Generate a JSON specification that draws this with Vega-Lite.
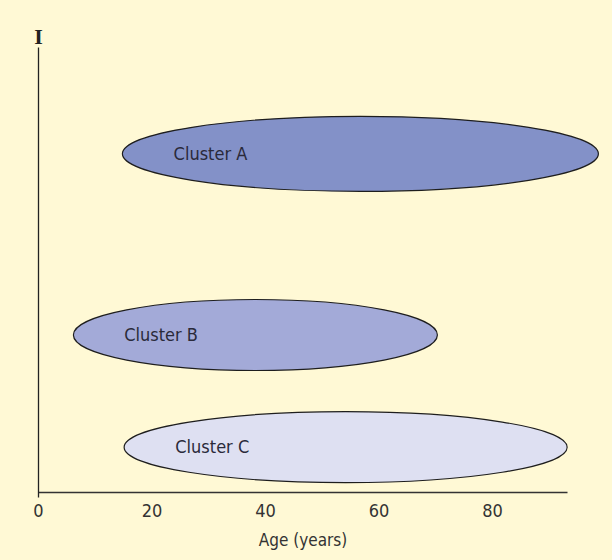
{
  "$schema": "https://vega.github.io/schema/vega-lite/v6.json",
  "autosize": "none",
  "width": 529,
  "height": 450,
  "padding": {"left": 38, "top": 47, "right": 45, "bottom": 63},
  "background": "#FFF9D5",
  "config": {
    "view": {"stroke": null},
    "font": "DejaVu Sans Condensed, Roboto, sans-serif"
  },
  "data": {
    "values": [
      {"cluster": "Cluster A", "ageMin": 14.9, "ageCenter": 56.8, "level": 76},
      {"cluster": "Cluster B", "ageMin": 6.2, "ageCenter": 38.3, "level": 35.3},
      {"cluster": "Cluster C", "ageMin": 15.2, "ageCenter": 54.2, "level": 10.1}
    ]
  },
  "layer": [
    {
      "mark": {"type": "point", "filled": true, "size": 4, "opacity": 1, "stroke": "#1e1e1e", "strokeWidth": 1.2, "strokeOpacity": 1},
      "encoding": {
        "x": {
          "field": "ageCenter", "type": "quantitative",
          "scale": {"domain": [0, 93.2], "nice": false, "zero": false},
          "axis": {
            "title": "Age (years)", "values": [0, 20, 40, 60, 80], "ticks": false, "grid": false, "labelFlush": false,
            "domainColor": "#333333", "domainWidth": 1.3, "offset": -5,
            "labelFont": "DejaVu Sans Condensed, Roboto, sans-serif", "labelFontSize": 18, "labelColor": "#333333", "labelPadding": 10,
            "titleFont": "DejaVu Sans Condensed, Roboto, sans-serif", "titleFontSize": 17, "titleFontWeight": "normal", "titleColor": "#333333", "titlePadding": 12
          }
        },
        "y": {
          "field": "level", "type": "quantitative",
          "scale": {"domain": [-1.1, 100], "nice": false, "zero": false},
          "axis": {
            "title": "I", "ticks": false, "labels": false, "grid": false,
            "domainColor": "#222222", "domainWidth": 1.3,
            "titleAngle": 0, "titleX": 0, "titleY": -11, "titleAlign": "center", "titleBaseline": "middle",
            "titleFont": "Liberation Serif", "titleFontSize": 22, "titleFontWeight": "bold", "titleColor": "#222222"
          }
        },
        "shape": {
          "field": "cluster", "type": "nominal",
          "scale": {
            "domain": ["Cluster A", "Cluster B", "Cluster C"],
            "range": [
              "M-238,0A238,37.5 0 1,1 238,0A238,37.5 0 1,1 -238,0Z",
              "M-182,0A182,35.5 0 1,1 182,0A182,35.5 0 1,1 -182,0Z",
              "M-221.5,0A221.5,35.5 0 1,1 221.5,0A221.5,35.5 0 1,1 -221.5,0Z"
            ]
          },
          "legend": null
        },
        "color": {
          "field": "cluster", "type": "nominal",
          "scale": {"domain": ["Cluster A", "Cluster B", "Cluster C"], "range": ["#8391C8", "#A3AAD8", "#DEE0F2"]},
          "legend": null
        }
      }
    },
    {
      "mark": {"type": "text", "align": "left", "baseline": "middle", "dx": 51, "dy": 1, "font": "DejaVu Sans Condensed, Roboto, sans-serif", "fontSize": 18, "color": "#2a2a3a"},
      "encoding": {
        "x": {"field": "ageMin", "type": "quantitative"},
        "y": {"field": "level", "type": "quantitative"},
        "text": {"field": "cluster", "type": "nominal"}
      }
    }
  ]
}
